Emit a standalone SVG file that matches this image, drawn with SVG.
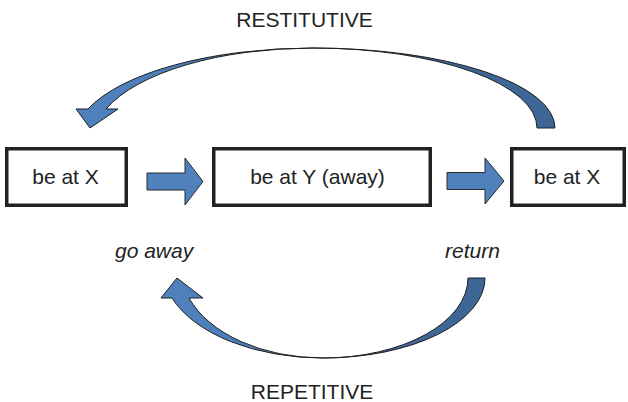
<svg xmlns="http://www.w3.org/2000/svg" width="628" height="402" viewBox="0 0 628 402">
  <style>
    .box { fill: #ffffff; stroke: #222222; stroke-width: 3.5; }
    .lbl { font-family: "Liberation Sans", Arial, sans-serif; font-size: 21px; fill: #222222; }
    .it { font-style: italic; }
    .flow { fill: #4f81bd; stroke: #2b2b2b; stroke-width: 1; stroke-linejoin: miter; }
    .curve { stroke: #1e1e1e; stroke-width: 1; }
  </style>
  <defs>
    <linearGradient id="topShade" gradientUnits="userSpaceOnUse" x1="76" y1="0" x2="555" y2="0">
      <stop offset="0" stop-color="#4f81bd"/>
      <stop offset="0.45" stop-color="#4a7bb5"/>
      <stop offset="0.52" stop-color="#40699b"/>
      <stop offset="1" stop-color="#3d6695"/>
    </linearGradient>
    <linearGradient id="bottomShade" gradientUnits="userSpaceOnUse" x1="161" y1="0" x2="485" y2="0">
      <stop offset="0" stop-color="#4f81bd"/>
      <stop offset="0.45" stop-color="#4a7bb5"/>
      <stop offset="0.55" stop-color="#40699b"/>
      <stop offset="1" stop-color="#3d6695"/>
    </linearGradient>
  </defs>

  <!-- headings -->
  <text class="lbl" x="304.5" y="27" text-anchor="middle">RESTITUTIVE</text>
  <text class="lbl" x="312" y="399" text-anchor="middle">REPETITIVE</text>

  <!-- states -->
  <g id="state-x-start">
    <rect class="box" x="6.75" y="148.75" width="119.5" height="56.5"/>
    <text class="lbl" x="65.5" y="184" text-anchor="middle">be at X</text>
  </g>
  <g id="state-y-away">
    <rect class="box" x="213.75" y="148.75" width="216.5" height="56.5"/>
    <text class="lbl" x="317.5" y="184" text-anchor="middle">be at Y (away)</text>
  </g>
  <g id="state-x-end">
    <rect class="box" x="511.75" y="148.75" width="112.5" height="56.5"/>
    <text class="lbl" x="567" y="184" text-anchor="middle">be at X</text>
  </g>

  <!-- event labels -->
  <g id="label-go-away">
    <text class="lbl it" x="115" y="258">go away</text>
  </g>
  <g id="label-return">
    <text class="lbl it" x="445" y="258">return</text>
  </g>

  <g id="connectors">
    <!-- straight block arrows between states -->
    <path class="flow" d="M147,173 L185,173 L185,158 L203,181.5 L185,205 L185,190 L147,190 Z"/>
    <path class="flow" d="M447,172.5 L485,172.5 L485,158 L504,181 L485,204 L485,189.5 L447,189.5 Z"/>

    <!-- restitutive: curved arrow over the top, right to left -->
    <path class="curve" fill="url(#topShade)"
      d="M555,128 A242 80 0 0 0 313,48 A239 92 0 0 0 88,109 L76,109 L90,128 L118,109 L106,109 A220 92 0 0 1 313,48 A224 80 0 0 1 537,128 Z"/>

    <!-- repetitive: curved arrow underneath, right to left -->
    <path class="curve" fill="url(#bottomShade)"
      d="M485,278 A162 80 0 0 1 323,358 A160 90 0 0 1 172,298 L161,298 L177,278 L203,298 L189,298 A142 90 0 0 0 323,358 A145 80 0 0 0 468,278 Z"/>
  </g>
</svg>
